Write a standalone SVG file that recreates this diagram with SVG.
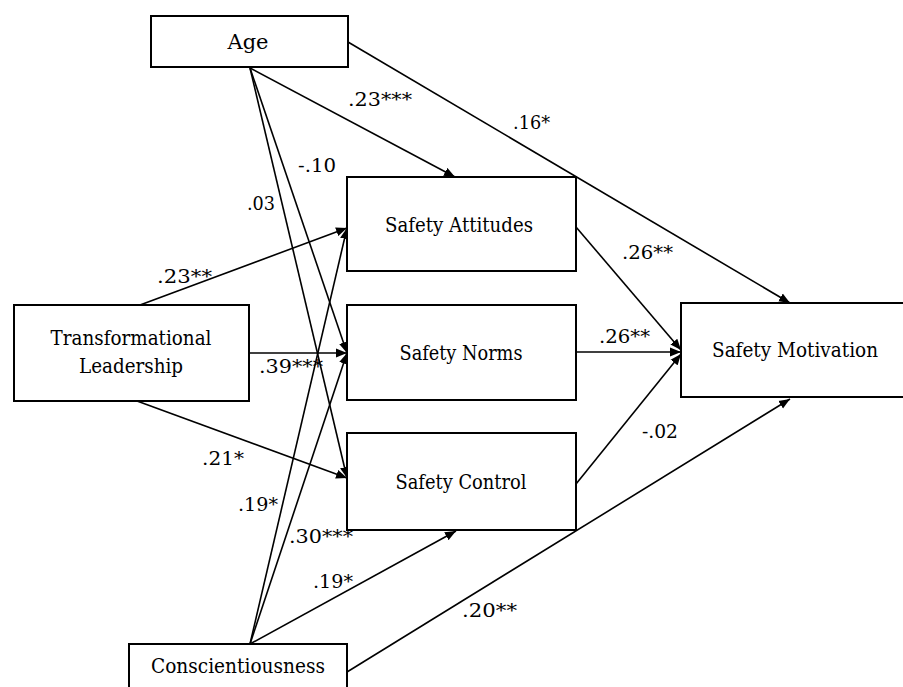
<svg xmlns="http://www.w3.org/2000/svg" width="903" height="687" viewBox="0 0 903 687">
<defs>
<marker id="arr" markerUnits="userSpaceOnUse" markerWidth="12" markerHeight="10" refX="11" refY="5" orient="auto">
<path d="M0,0.5 L11,5 L0,9.5 Z" fill="#000"/>
</marker>
<style>
text{font-family:'DejaVu Serif',serif}
.box{fill:#fff;stroke:#000;stroke-width:2}
.nt{font-size:21px;fill:#000;text-anchor:middle}
.lb{font-size:19px;fill:#000}
.ln{stroke:#000;stroke-width:1.6;fill:none;marker-end:url(#arr)}
</style>
</defs>
<rect width="903" height="687" fill="#fff"/>
<g id="connectors">
<line class="ln" x1="348" y1="42" x2="790" y2="303"/>
<line class="ln" x1="250" y1="68" x2="455" y2="177"/>
<line class="ln" x1="250" y1="68" x2="347" y2="353"/>
<line class="ln" x1="250" y1="68" x2="347" y2="478"/>
<line class="ln" x1="140" y1="305" x2="347" y2="228"/>
<line class="ln" x1="249" y1="353" x2="347" y2="353"/>
<line class="ln" x1="137" y1="401" x2="347" y2="478"/>
<line class="ln" x1="250" y1="644" x2="347" y2="228"/>
<line class="ln" x1="250" y1="644" x2="347" y2="353"/>
<line class="ln" x1="250" y1="644" x2="456" y2="531"/>
<line class="ln" x1="347" y1="672" x2="790" y2="399"/>
<line class="ln" x1="576" y1="227" x2="681" y2="350"/>
<line class="ln" x1="576" y1="352" x2="681" y2="352"/>
<line class="ln" x1="576" y1="484" x2="681" y2="354"/>
<text class="lb" x="348" y="106" textLength="64" lengthAdjust="spacingAndGlyphs">.23***</text>
<text class="lb" x="513" y="129" textLength="37" lengthAdjust="spacingAndGlyphs">.16*</text>
<text class="lb" x="298" y="172" textLength="38" lengthAdjust="spacingAndGlyphs">-.10</text>
<text class="lb" x="247" y="210" textLength="28" lengthAdjust="spacingAndGlyphs">.03</text>
<text class="lb" x="157" y="283" textLength="55" lengthAdjust="spacingAndGlyphs">.23**</text>
<text class="lb" x="259" y="373" textLength="64" lengthAdjust="spacingAndGlyphs">.39***</text>
<text class="lb" x="202" y="465" textLength="42" lengthAdjust="spacingAndGlyphs">.21*</text>
<text class="lb" x="238" y="511" textLength="40" lengthAdjust="spacingAndGlyphs">.19*</text>
<text class="lb" x="289" y="543" textLength="64" lengthAdjust="spacingAndGlyphs">.30***</text>
<text class="lb" x="313" y="588" textLength="40" lengthAdjust="spacingAndGlyphs">.19*</text>
<text class="lb" x="462" y="617" textLength="55" lengthAdjust="spacingAndGlyphs">.20**</text>
<text class="lb" x="622" y="259" textLength="51" lengthAdjust="spacingAndGlyphs">.26**</text>
<text class="lb" x="599" y="343" textLength="51" lengthAdjust="spacingAndGlyphs">.26**</text>
<text class="lb" x="642" y="438" textLength="36" lengthAdjust="spacingAndGlyphs">-.02</text>
</g>
<g id="age">
<rect class="box" x="151" y="16" width="197" height="51"/>
<text class="nt" x="248" y="49" textLength="41" lengthAdjust="spacingAndGlyphs">Age</text>
</g>
<g id="leadership">
<rect class="box" x="14" y="305" width="235" height="96"/>
<text class="nt" x="131" y="345" textLength="161" lengthAdjust="spacingAndGlyphs">Transformational</text>
<text class="nt" x="131" y="373" textLength="104" lengthAdjust="spacingAndGlyphs">Leadership</text>
</g>
<g id="attitudes">
<rect class="box" x="347" y="177" width="229" height="94"/>
<text class="nt" x="459" y="232" textLength="148" lengthAdjust="spacingAndGlyphs">Safety Attitudes</text>
</g>
<g id="norms">
<rect class="box" x="347" y="305" width="229" height="95"/>
<text class="nt" x="461" y="360" textLength="123" lengthAdjust="spacingAndGlyphs">Safety Norms</text>
</g>
<g id="control">
<rect class="box" x="347" y="433" width="229" height="97"/>
<text class="nt" x="461" y="489" textLength="131" lengthAdjust="spacingAndGlyphs">Safety Control</text>
</g>
<g id="motivation">
<rect class="box" x="681" y="303" width="228" height="94"/>
<text class="nt" x="795" y="357" textLength="166" lengthAdjust="spacingAndGlyphs">Safety Motivation</text>
</g>
<g id="conscientiousness">
<rect class="box" x="129" y="644" width="218" height="60"/>
<text class="nt" x="238" y="673" textLength="174" lengthAdjust="spacingAndGlyphs">Conscientiousness</text>
</g>
</svg>
